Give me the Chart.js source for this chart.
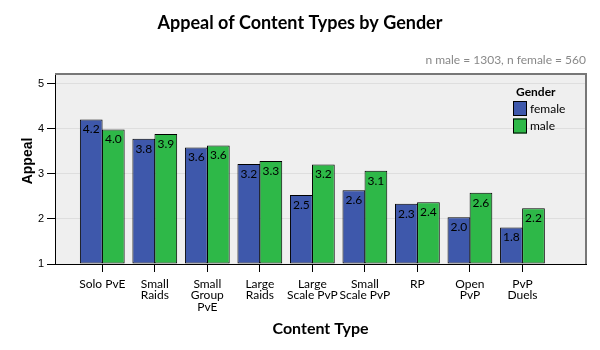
<!DOCTYPE html>
<html>
<head>
<meta charset="utf-8">
<script src="https://cdn.jsdelivr.net/npm/chart.js@4"></script>
<style>
    body { margin: 0; background: #fff; }
    #wrap { width: 600px; height: 350px; }
</style>
</head>
<body>
<div id="wrap"><canvas id="chart-appeal"></canvas></div>
<script>
const categories = [
    ['Solo PvE'],
    ['Small', 'Raids'],
    ['Small', 'Group', 'PvE'],
    ['Large', 'Raids'],
    ['Large', 'Scale PvP'],
    ['Small', 'Scale PvP'],
    ['RP'],
    ['Open', 'PvP'],
    ['PvP', 'Duels'],
];
const female = [4.21, 3.78, 3.59, 3.22, 2.53, 2.64, 2.34, 2.04, 1.81];
const male = [3.99, 3.89, 3.63, 3.29, 3.21, 3.07, 2.37, 2.58, 2.24];
const yTicks = [1, 2, 3, 4, 5];

const FONT = 'Lato, "Open Sans", sans-serif';

// bars are drawn on a linear x axis so the plot frame can have SPSS-like margins
const toPoints = vals => vals.map((v, i) => ({ x: i, y: v }));

const decor = {
    id: 'decor',
    beforeDraw(chart) {
        const { ctx, chartArea: a } = chart;
        ctx.save();
        ctx.fillStyle = '#efefef';
        ctx.fillRect(a.left, a.top, a.right - a.left, a.bottom - a.top);
        ctx.restore();
    },
    afterDatasetsDraw(chart) {
        const { ctx, chartArea: a } = chart;
        ctx.save();
        // value labels
        ctx.font = '12px ' + FONT;
        ctx.fillStyle = '#000';
        ctx.textAlign = 'center';
        ctx.textBaseline = 'middle';
        chart.data.datasets.forEach((ds, di) => {
            chart.getDatasetMeta(di).data.forEach((bar, i) => {
                ctx.fillText(ds.data[i].y.toFixed(1), bar.x, bar.y + 10);
            });
        });
        // top and right frame
        ctx.strokeStyle = '#777';
        ctx.lineWidth = 2;
        ctx.beginPath();
        ctx.moveTo(a.left, a.top);
        ctx.lineTo(a.right, a.top);
        ctx.lineTo(a.right, a.bottom);
        ctx.stroke();
        ctx.restore();
    },
    afterDraw(chart) {
        const { ctx, chartArea: a } = chart;
        ctx.save();
        ctx.fillStyle = '#000';
        ctx.textBaseline = 'middle';
        ctx.textAlign = 'center';
        ctx.font = 'bold 18px ' + FONT;
        ctx.fillText('Appeal of Content Types by Gender', 300, 23);
        ctx.font = 'bold 16px ' + FONT;
        ctx.fillText('Content Type', (a.left + a.right) / 2, 329);
        ctx.save();
        ctx.translate(28, 161);
        ctx.rotate(-Math.PI / 2);
        ctx.font = 'bold 14px "Liberation Sans", Arial, sans-serif';
        ctx.fillText('Appeal', 0, 0);
        ctx.restore();

        ctx.fillStyle = '#888';
        ctx.textAlign = 'right';
        ctx.font = '12px ' + FONT;
        ctx.fillText('n male = 1303, n female = 560', 586, 60);

        // legend
        ctx.fillStyle = '#000';
        ctx.textAlign = 'left';
        ctx.font = 'bold 12px ' + FONT;
        ctx.fillText('Gender', 516, 92);
        ctx.font = '12px ' + FONT;
        chart.data.datasets.forEach((ds, i) => {
            const y = 101 + i * 17.5;
            ctx.fillStyle = ds.backgroundColor;
            ctx.fillRect(513, y, 14, 15);
            ctx.strokeStyle = '#000';
            ctx.lineWidth = 1;
            ctx.strokeRect(513.5, y + 0.5, 13, 14);
            ctx.fillStyle = '#000';
            ctx.fillText(ds.label, 530, y + 8);
        });
        ctx.restore();
    }
};

const data = {
    datasets: [{
        label: 'female',
        data: toPoints(female),
        backgroundColor: '#3e58ab',
    }, {
        label: 'male',
        data: toPoints(male),
        backgroundColor: '#2eb848',
    }]
};

const config = {
    type: 'bar',
    data: data,
    plugins: [decor],
    options: {
        responsive: true,
        maintainAspectRatio: false,
        animation: false,
        layout: { padding: { top: 74, right: 14, left: 0, bottom: 0 } },
        datasets: {
            bar: {
                base: 1,
                borderColor: '#000',
                borderWidth: 1,
                borderSkipped: false,
                barPercentage: 1.03,
                categoryPercentage: 0.84,
            }
        },
        plugins: {
            legend: { display: false },
            tooltip: { enabled: false },
        },
        scales: {
            x: {
                type: 'linear',
                offset: false,
                min: -0.9,
                max: 9.21,
                afterFit: s => { s.height = 86; },
                afterBuildTicks: s => { s.ticks = categories.map((_, i) => ({ value: i })); },
                grid: { drawOnChartArea: false, offset: false, tickColor: '#000', tickLength: 8 },
                border: { color: '#000' },
                ticks: {
                    autoSkip: false,
                    maxRotation: 0,
                    padding: 6,
                    color: '#000',
                    font: { family: FONT, size: 12, lineHeight: 0.97 },
                    callback: v => categories[v],
                },
            },
            y: {
                min: 1,
                max: 5.22,
                afterFit: s => { s.width = 55; },
                afterBuildTicks: s => { s.ticks = yTicks.map(v => ({ value: v })); },
                grid: { color: '#dedede', tickColor: '#000', tickLength: 8 },
                border: { color: '#000' },
                ticks: {
                    padding: 3,
                    color: '#000',
                    font: { family: '"Liberation Sans", Arial, sans-serif', size: 11 },
                },
            }
        }
    }
};

const appealChart = new Chart(document.getElementById('chart-appeal'), config);
</script>
</body>
</html>
